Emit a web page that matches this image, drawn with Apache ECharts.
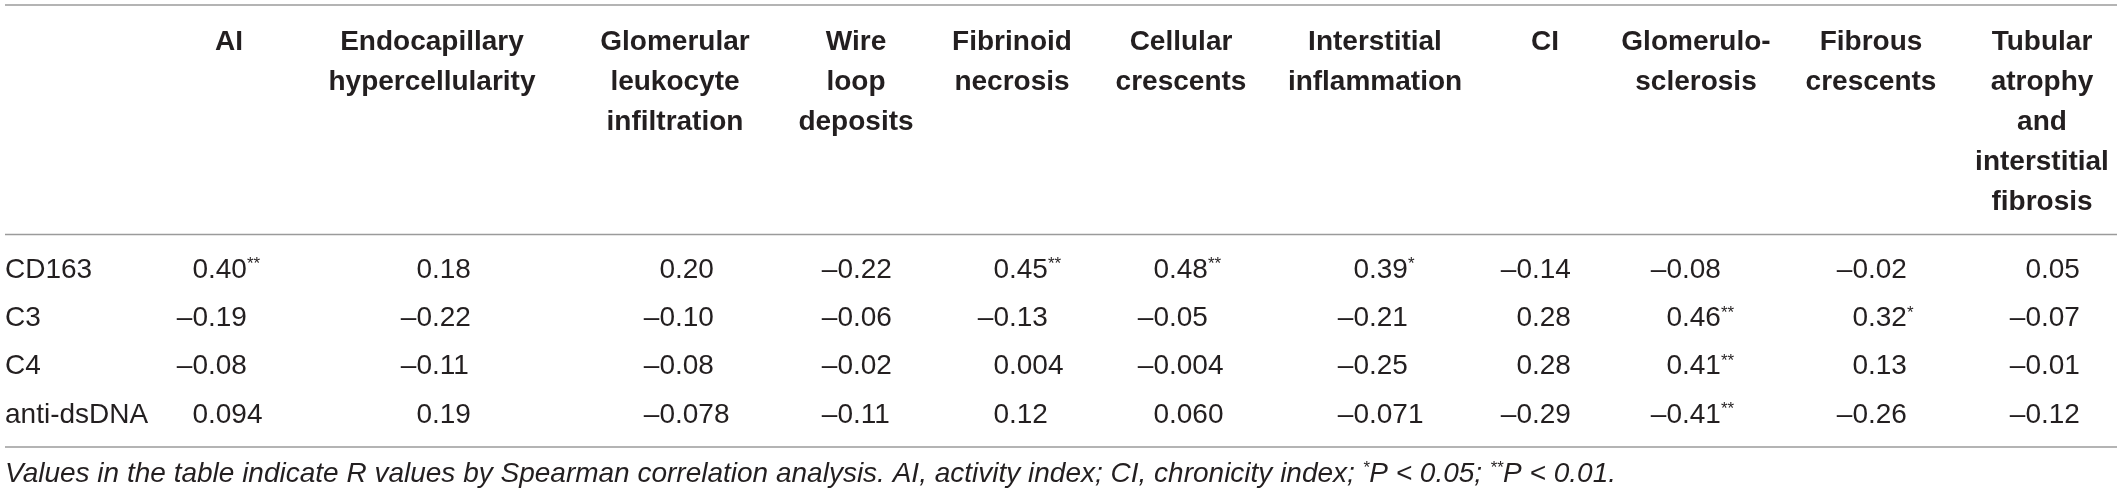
<!DOCTYPE html>
<html>
<head>
<meta charset="utf-8">
<title>Spearman correlation table</title>
<script src="https://cdn.jsdelivr.net/npm/echarts@6/dist/echarts.min.js"></script>
<style>
  html, body { margin: 0; padding: 0; background: #fff; }
  #chart { width: 2117px; height: 496px; }
</style>
</head>
<body>
<div id="chart"></div>
<script>
// rows of the table
var rowNames = ['CD163', 'C3', 'C4', 'anti-dsDNA'];

// column headers
var headers = [
  'AI',
  'Endocapillary\nhypercellularity',
  'Glomerular\nleukocyte\ninfiltration',
  'Wire\nloop\ndeposits',
  'Fibrinoid\nnecrosis',
  'Cellular\ncrescents',
  'Interstitial\ninflammation',
  'CI',
  'Glomerulo-\nsclerosis',
  'Fibrous\ncrescents',
  'Tubular\natrophy\nand\ninterstitial\nfibrosis'
];

// R values (as printed) and significance marks
var cd163 = ['0.40', '0.18', '0.20', '-0.22', '0.45', '0.48', '0.39', '-0.14', '-0.08', '-0.02', '0.05'];
var cd163Sig = ['**', '', '', '', '**', '**', '*', '', '', '', ''];
var c3 = ['-0.19', '-0.22', '-0.10', '-0.06', '-0.13', '-0.05', '-0.21', '0.28', '0.46', '0.32', '-0.07'];
var c3Sig = ['', '', '', '', '', '', '', '', '**', '*', ''];
var c4 = ['-0.08', '-0.11', '-0.08', '-0.02', '0.004', '-0.004', '-0.25', '0.28', '0.41', '0.13', '-0.01'];
var c4Sig = ['', '', '', '', '', '', '', '', '**', '', ''];
var dsdna = ['0.094', '0.19', '-0.078', '-0.11', '0.12', '0.060', '-0.071', '-0.29', '-0.41', '-0.26', '-0.12'];
var dsdnaSig = ['', '', '', '', '', '', '', '', '**', '', ''];

var footnote = 'Values in the table indicate R values by Spearman correlation analysis. AI, activity index; CI, chronicity index; {s|*}P < 0.05; {s|**}P < 0.01.';

// layout: where each column sits on the x axis (decimal point / header centre)
var decX = [208, 432, 675, 853, 1009, 1169, 1369, 1532, 1682, 1868, 2041];
var headX = [229, 432, 675, 856, 1012, 1181, 1375, 1545, 1696, 1871, 2042];

var ink = '#231f20';
var ruleColor = '#9b9b9b';
var fam = '"Liberation Sans", Arial, Helvetica, sans-serif';

var values = [cd163, c3, c4, dsdna];
var sigs = [cd163Sig, c3Sig, c4Sig, dsdnaSig];

// one item per cell: [column, row]
var cells = [];
for (var r = 0; r < values.length; r++) {
  for (var c = 0; c < values[r].length; c++) {
    cells.push([c, r]);
  }
}
var headItems = headers.map(function (h, i) { return [i, 0]; });

var chart = echarts.init(document.getElementById('chart'));

var option = {
  animation: false,
  backgroundColor: '#fff',
  grid: { left: 0, right: 0, top: 246, bottom: 57, containLabel: false },
  xAxis: {
    type: 'value',
    min: 0,
    max: 2117,
    show: false
  },
  yAxis: {
    type: 'category',
    inverse: true,
    data: rowNames,
    axisLine: { show: false },
    axisTick: { show: false },
    splitLine: { show: false },
    axisLabel: {
      inside: true,
      margin: 5,
      align: 'left',
      fontSize: 28,
      fontFamily: fam,
      color: ink
    }
  },
  series: [
    {
      name: 'cells',
      type: 'custom',
      coordinateSystem: 'cartesian2d',
      clip: false,
      data: cells,
      renderItem: function (params, api) {
        var ci = api.value(0);
        var ri = api.value(1);
        var p = api.coord([decX[ci], ri]);
        var s = values[ri][ci].replace('-', '\u2013');
        var dot = s.indexOf('.');
        var left = s.slice(0, dot);
        var right = s.slice(dot);
        var star = sigs[ri][ci];
        if (star) right += '{s|' + star + '}';
        var base = { fontSize: 28, fontFamily: fam, fill: ink, verticalAlign: 'middle' };
        return {
          type: 'group',
          children: [
            {
              type: 'text',
              style: Object.assign({ x: p[0], y: p[1], text: left, align: 'right' }, base)
            },
            {
              type: 'text',
              style: Object.assign({
                x: p[0], y: p[1], text: right, align: 'left', lineHeight: 28,
                rich: { s: { fontSize: 17, fontFamily: fam, fill: ink, lineHeight: 14, verticalAlign: 'top' } }
              }, base)
            }
          ]
        };
      }
    },
    {
      name: 'headers',
      type: 'custom',
      coordinateSystem: 'cartesian2d',
      clip: false,
      data: headItems,
      renderItem: function (params, api) {
        var ci = api.value(0);
        var p = api.coord([headX[ci], 0]);
        return {
          type: 'text',
          style: {
            x: p[0],
            y: 22,
            text: headers[ci],
            align: 'center',
            verticalAlign: 'top',
            fontSize: 28,
            fontWeight: 'bold',
            fontFamily: fam,
            lineHeight: 40,
            fill: ink
          }
        };
      }
    }
  ],
  graphic: [
    { type: 'line', shape: { x1: 5, y1: 5, x2: 2117, y2: 5 }, style: { stroke: ruleColor, lineWidth: 1.5 } },
    { type: 'line', shape: { x1: 5, y1: 234.5, x2: 2117, y2: 234.5 }, style: { stroke: ruleColor, lineWidth: 1.5 } },
    { type: 'line', shape: { x1: 5, y1: 447, x2: 2117, y2: 447 }, style: { stroke: ruleColor, lineWidth: 1.5 } },
    {
      type: 'text',
      left: 5,
      top: 460,
      style: {
        text: footnote,
        fontSize: 28,
        fontStyle: 'italic',
        fontFamily: fam,
        fill: ink,
        lineHeight: 28,
        rich: { s: { fontSize: 17, fontStyle: 'italic', fontFamily: fam, fill: ink, lineHeight: 14, verticalAlign: 'top' } }
      }
    }
  ]
};

chart.setOption(option);
</script>
</body>
</html>
